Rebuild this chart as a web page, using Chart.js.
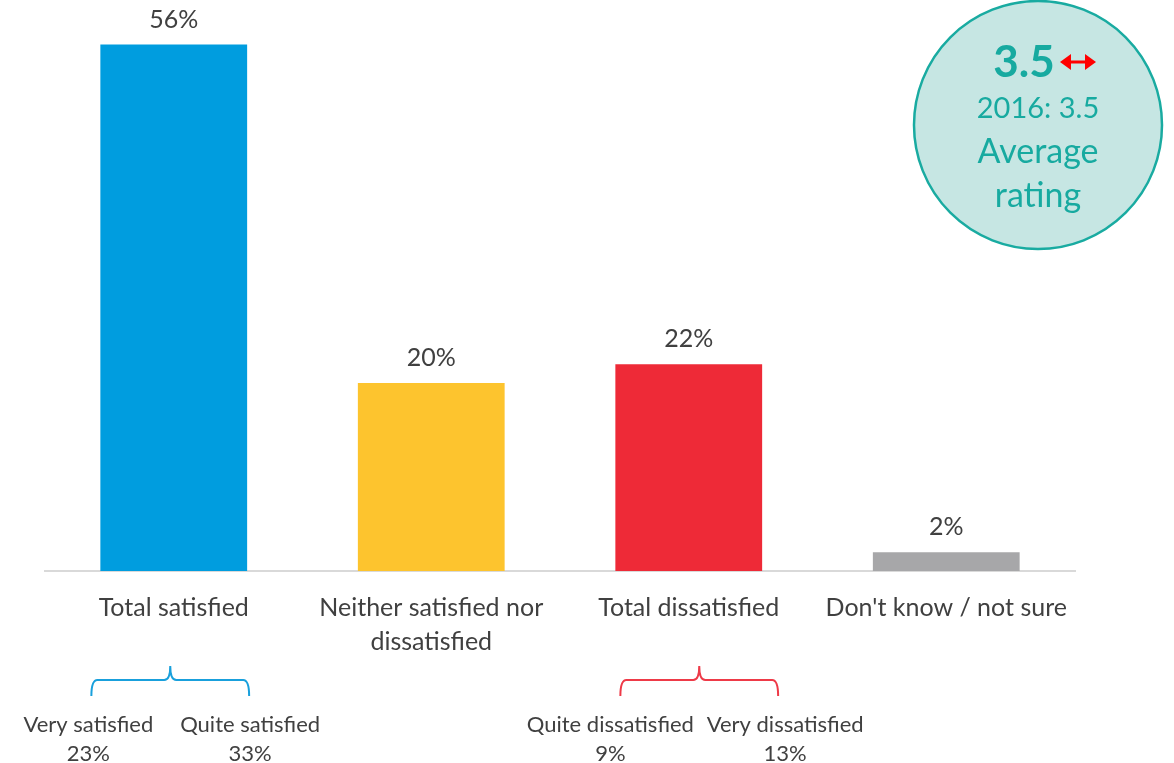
<!DOCTYPE html>
<html>
<head>
<meta charset="utf-8">
<script src="https://cdn.jsdelivr.net/npm/chart.js@4"></script>
<style>
  html, body { margin: 0; padding: 0; background: #fff; }
  #wrap { width: 1174px; height: 763px; position: relative; }
</style>
</head>
<body>
<div id="wrap"><canvas id="bar-chart"></canvas></div>
<script>
var categories = ["Total satisfied", ["Neither satisfied nor", "dissatisfied"], "Total dissatisfied", "Don't know / not sure"];
var values = [56, 20, 22, 2];
var barColors = ["#009ddf", "#fdc42e", "#ee2a37", "#a7a7a9"];

// breakdown under the total bars
var breakdownBars = [0, 2];
var breakdownLabels = [["Very satisfied", "Quite satisfied"], ["Quite dissatisfied", "Very dissatisfied"]];
var breakdownValues = [[23, 33], [9, 13]];
var braceColors = ["#19a0dc", "#ee3a48"];

var ratingNow = "3.5";
var ratingPrev = "2016: 3.5";
var ratingTitle = ["Average", "rating"];

var textColor = "#404040";
var font = "Lato, 'Open Sans', sans-serif";

function drawBrace(ctx, x1, x2, top, color) {
    var mid = (x1 + x2) / 2;
    var r = 6;
    ctx.save();
    ctx.strokeStyle = color;
    ctx.lineWidth = 2;
    ctx.beginPath();
    ctx.moveTo(x1, top + 16);
    ctx.quadraticCurveTo(x1, top, x1 + r, top);
    ctx.lineTo(mid - r, top);
    ctx.quadraticCurveTo(mid, top, mid, top - 14);
    ctx.quadraticCurveTo(mid, top, mid + r, top);
    ctx.lineTo(x2 - r, top);
    ctx.quadraticCurveTo(x2, top, x2, top + 16);
    ctx.stroke();
    ctx.restore();
}

var extras = {
    id: "extras",
    afterDatasetsDraw: function (chart) {
        var ctx = chart.ctx;
        var meta = chart.getDatasetMeta(0);

        // value labels above bars
        ctx.save();
        ctx.fillStyle = textColor;
        ctx.font = "25px " + font;
        ctx.textAlign = "center";
        ctx.textBaseline = "middle";
        meta.data.forEach(function (bar, i) {
            ctx.fillText(values[i] + "%", bar.x, bar.y - 25);
        });

        // braces and breakdown labels
        breakdownBars.forEach(function (idx, k) {
            var bar = meta.data[idx];
            var half = bar.width / 2;
            var shift = k === 0 ? 0 : 14;
            var x1 = bar.x - half - 9 + shift;
            var x2 = bar.x + half + 2 + shift;
            drawBrace(ctx, x1, x2, 680, braceColors[k]);
            ctx.fillStyle = textColor;
            ctx.font = "22px " + font;
            var lx = bar.x - half - 12 + (k === 0 ? 0 : 7);
            var rx = bar.x + half + 3 + (k === 0 ? 0 : 20);
            ctx.fillText(breakdownLabels[k][0], lx, 725);
            ctx.fillText(breakdownValues[k][0] + "%", lx, 754);
            ctx.fillText(breakdownLabels[k][1], rx, 725);
            ctx.fillText(breakdownValues[k][1] + "%", rx, 754);
        });

        // average rating badge
        var cx = 1038, cy = 125, rad = 124;
        ctx.beginPath();
        ctx.arc(cx, cy, rad, 0, Math.PI * 2);
        ctx.fillStyle = "#c6e6e3";
        ctx.fill();
        ctx.lineWidth = 2.5;
        ctx.strokeStyle = "#19aba1";
        ctx.stroke();

        ctx.fillStyle = "#17aaa0";
        ctx.font = "bold 44px " + font;
        ctx.fillText(ratingNow, 1024, 63);
        ctx.font = "29px " + font;
        ctx.fillText(ratingPrev, 1038, 109);
        ctx.font = "34px " + font;
        ctx.fillText(ratingTitle[0], 1038, 152);
        ctx.fillText(ratingTitle[1], 1038, 196);

        // red double arrow (no change)
        var ay = 62, ax1 = 1060, ax2 = 1096;
        ctx.strokeStyle = "#ff0000";
        ctx.fillStyle = "#ff0000";
        ctx.lineWidth = 3;
        ctx.beginPath();
        ctx.moveTo(ax1 + 8, ay);
        ctx.lineTo(ax2 - 8, ay);
        ctx.stroke();
        ctx.beginPath();
        ctx.moveTo(ax1, ay);
        ctx.lineTo(ax1 + 11, ay - 8);
        ctx.lineTo(ax1 + 11, ay + 8);
        ctx.closePath();
        ctx.fill();
        ctx.beginPath();
        ctx.moveTo(ax2, ay);
        ctx.lineTo(ax2 - 11, ay - 8);
        ctx.lineTo(ax2 - 11, ay + 8);
        ctx.closePath();
        ctx.fill();
        ctx.restore();
    }
};

var ctx = document.getElementById("bar-chart");
var barChart = new Chart(ctx, {
    type: 'bar',
    data: {
        labels: categories,
        datasets: [{
            data: values,
            backgroundColor: barColors,
            borderWidth: 0,
            barPercentage: 0.57,
            categoryPercentage: 1
        }]
    },
    options: {
        responsive: true,
        maintainAspectRatio: false,
        animation: false,
        layout: { padding: { left: 45, right: 99, top: 7, bottom: 92 } },
        plugins: {
            legend: { display: false },
            tooltip: { enabled: false }
        },
        scales: {
            x: {
                grid: { display: false, drawTicks: false },
                border: { display: true, color: "#d9d9d9", width: 2 },
                ticks: {
                    color: textColor,
                    font: { family: font, size: 25, lineHeight: 1.36 },
                    padding: 20,
                    maxRotation: 0,
                    autoSkip: false
                },
                afterFit: function (scale) { scale.height = 100; }
            },
            y: {
                display: false,
                min: 0,
                max: 60
            }
        }
    },
    plugins: [extras]
});
</script>
</body>
</html>
